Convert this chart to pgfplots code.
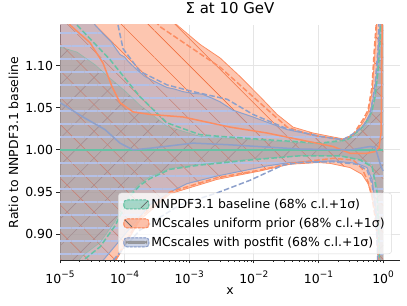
\documentclass[border=0pt]{standalone}
\usepackage{fontspec}
\setmainfont{DejaVu Sans}
\usepackage{pgfplots}
\pgfplotsset{compat=1.18}
\usepackage{pgfplotstable}
\usepgfplotslibrary{fillbetween}
\usetikzlibrary{patterns.meta}
\definecolor{cg}{HTML}{66C2A5}
\definecolor{co}{HTML}{FC8D62}
\definecolor{cb}{HTML}{8DA0CB}
\definecolor{cbh}{HTML}{B4C0E6}
\definecolor{coh}{HTML}{F0703F}
\newcommand{\tpm}[1]{10\raisebox{0.45em}{\fontsize{9}{9}\selectfont −#1}}
\newcommand{\tpz}{10\raisebox{0.45em}{\fontsize{9}{9}\selectfont 0}}

% green band (68% c.l.)
\pgfplotstableread{
x y
1e-5 1.122
1.83e-5 1.116
3.48e-5 1.101
5.54e-5 1.087
1.01e-4 1.070
1.73e-4 1.053
4.53e-4 1.028
1.47e-3 1.016
1.60e-2 1.011
0.106 1.007
0.240 1.010
0.441 1.020
0.586 1.033
0.676 1.044
0.752 1.060
0.837 1.090
0.899 1.130
0.966 1.250
1.0 1.400
}\gu
\pgfplotstableread{
x y
1e-5 0.840
2.27e-5 0.875
4.16e-5 0.890
7.10e-5 0.915
1.21e-4 0.948
1.73e-4 0.960
2.47e-4 0.968
5.05e-4 0.978
1.47e-3 0.983
8.74e-3 0.989
5.19e-2 0.993
0.216 0.993
0.441 0.989
0.676 0.982
0.808 0.955
0.837 0.930
0.899 0.860
1.0 0.700
}\gl
% green 1 sigma
\pgfplotstableread{
x y
1e-5 1.220
1.83e-5 1.148
5.94e-5 1.107
1.01e-4 1.085
1.73e-4 1.063
4.53e-4 1.032
1.47e-3 1.018
3.0e-3 1.016
1.60e-2 1.012
0.106 1.008
0.277 1.012
0.441 1.024
0.586 1.036
0.676 1.047
0.752 1.063
0.837 1.095
0.899 1.130
0.931 1.200
}\gsu
\pgfplotstableread{
x y
1.83e-5 0.845
2.27e-5 0.869
4.16e-5 0.885
7.10e-5 0.910
1.21e-4 0.945
1.73e-4 0.958
2.47e-4 0.966
5.05e-4 0.977
1.47e-3 0.982
8.74e-3 0.988
5.19e-2 0.993
0.216 0.993
0.441 0.988
0.676 0.980
0.808 0.949
0.837 0.920
0.899 0.850
}\gsl
% orange band
\pgfplotstableread{
x y
1e-5 1.600
2.47e-4 1.200
6.48e-4 1.148
1.47e-3 1.125
3.0e-3 1.109
6.11e-3 1.087
1.25e-2 1.063
2.29e-2 1.042
4.04e-2 1.027
8.24e-2 1.020
0.151 1.016
0.240 1.013
0.344 1.017
0.490 1.033
0.586 1.044
0.676 1.068
0.726 1.100
0.779 1.135
0.808 1.160
0.837 1.250
1.0 1.500
}\ou
\pgfplotstableread{
x y
1e-5 0.600
4.16e-5 0.800
7.10e-5 0.867
1.73e-4 0.917
5.05e-4 0.948
2.69e-3 0.965
1.25e-2 0.975
3.63e-2 0.983
0.100 0.985
0.151 0.984
0.309 0.979
0.473 0.971
0.586 0.960
0.676 0.945
0.779 0.918
0.867 0.870
0.931 0.800
1.0 0.700
}\ol
\pgfplotstableread{
x y
2.47e-4 1.160
3.53e-4 1.146
1.47e-3 1.114
3.0e-3 1.098
9.72e-3 1.063
3.27e-2 1.027
7.41e-2 1.018
0.151 1.014
0.240 1.012
0.344 1.018
0.490 1.036
0.586 1.047
0.676 1.075
0.726 1.115
0.779 1.146
0.837 1.250
}\osu
\pgfplotstableread{
x y
7.10e-5 0.869
1.73e-4 0.920
5.05e-4 0.950
2.69e-3 0.967
1.25e-2 0.976
3.63e-2 0.984
0.168 0.990
0.344 0.988
0.473 0.978
0.586 0.962
0.676 0.944
0.779 0.913
0.867 0.860
}\osl
\pgfplotstableread{
x y
1e-5 1.250
1.43e-5 1.148
2.91e-5 1.127
4.63e-5 1.103
6.38e-5 1.075
8.49e-5 1.056
1.35e-4 1.045
2.47e-4 1.042
8.02e-4 1.039
4.28e-3 1.027
1.60e-2 1.020
5.19e-2 1.012
0.168 1.004
0.309 0.996
0.565 0.996
0.752 0.998
0.867 1.003
0.931 1.020
0.966 1.140
1.0 1.300
}\oc
% blue band
\pgfplotstableread{
x y
1e-5 1.500
2.44e-5 1.200
3.48e-5 1.148
4.6e-5 1.138
6.2e-5 1.128
8.49e-5 1.113
1.0e-4 1.110
1.13e-4 1.105
1.5e-4 1.096
2.07e-4 1.087
2.6e-4 1.083
3.3e-4 1.079
4.5e-4 1.074
6.0e-4 1.072
8.0e-4 1.069
1.15e-3 1.067
1.6e-3 1.066
2.3e-3 1.061
3.0e-3 1.057
4.76e-3 1.047
9.72e-3 1.039
3.27e-2 1.024
0.106 1.016
0.240 1.012
0.344 1.018
0.490 1.027
0.629 1.043
0.700 1.060
0.752 1.075
0.808 1.095
0.837 1.115
0.899 1.148
0.931 1.300
1.0 1.500
}\bu
\pgfplotstableread{
x y
1e-5 0.600
4.63e-5 0.869
1.01e-4 0.900
2.47e-4 0.935
5.05e-4 0.950
9.25e-4 0.960
2.69e-3 0.969
1.60e-2 0.981
3.63e-2 0.985
0.168 0.987
0.396 0.984
0.565 0.979
0.676 0.965
0.779 0.930
0.837 0.870
0.867 0.700
1.0 0.600
}\bl
\pgfplotstableread{
x y
7.9e-5 1.148
9.45e-5 1.120
1.73e-4 1.093
4.53e-4 1.077
1.15e-3 1.069
3.85e-3 1.060
9.72e-3 1.042
3.27e-2 1.025
0.106 1.016
0.240 1.012
0.344 1.019
0.490 1.028
0.629 1.041
0.752 1.077
0.837 1.120
0.899 1.200
}\bsu
\pgfplotstableread{
x y
6.61e-5 0.869
1.73e-4 0.905
7.21e-4 0.935
2.69e-3 0.949
8.74e-3 0.964
2.83e-2 0.982
5.19e-2 0.985
0.168 0.986
0.396 0.983
0.565 0.976
0.676 0.960
0.779 0.920
0.837 0.860
}\bsl
\pgfplotstableread{
x y
1e-5 1.056
2.27e-5 1.039
4.98e-5 1.024
8.49e-5 1.008
1.35e-4 1.000
2.47e-4 1.002
1.15e-3 1.008
4.28e-3 1.006
5.19e-2 1.001
0.309 1.000
0.629 1.004
0.752 1.003
0.808 0.996
0.931 0.980
1.0 0.975
}\bc
\pgfplotstableread{
x y
1e-5 1.0
1.0 1.0
}\gc

\begin{document}
\begin{tikzpicture}[font=\fontsize{12.5}{15}\selectfont]
\begin{axis}[
  xmode=log, scale only axis, width=340bp, height=235bp,
  xmin=1e-5, xmax=1.83, ymin=0.8695, ymax=1.148,
  axis lines=left, axis line style={-, black!85, line width=0.8bp},
  xtick={1e-5,1e-4,1e-3,1e-2,1e-1,1},
  xticklabels={\tpm{5},\tpm{4},\tpm{3},\tpm{2},\tpm{1},\tpz},
  minor xtick={2e-5,3e-5,4e-5,5e-5,6e-5,7e-5,8e-5,9e-5,2e-4,3e-4,4e-4,5e-4,6e-4,7e-4,8e-4,9e-4,2e-3,3e-3,4e-3,5e-3,6e-3,7e-3,8e-3,9e-3,2e-2,3e-2,4e-2,5e-2,6e-2,7e-2,8e-2,9e-2,0.2,0.3,0.4,0.5,0.6,0.7,0.8,0.9},
  ytick={0.9,0.95,1,1.05,1.1},
  yticklabels={0.90,0.95,1.00,1.05,1.10},
  tick align=outside, major tick length=3.5bp, minor tick length=2bp,
  every tick/.style={black!85, line width=0.8bp},
  minor tick style={black!85, line width=0.6bp},
  xmajorgrids, ymajorgrids, major grid style={black!10, line width=0.8bp},
  xticklabel style={anchor=base, yshift=-20bp},
  title={Σ at 10 GeV},
  title style={at={(axis description cs:0.5,1.0234)}, anchor=base, font=\fontsize{15}{18}\selectfont},
  xlabel={x},
  xlabel style={at={(axis description cs:0.5,-0.1489)}, anchor=base},
  ylabel={Ratio to NNPDF3.1 baseline},
  ylabel style={at={(axis description cs:-0.1235,0.5)}, anchor=base},
  legend style={at={(0.976,0.0255)}, anchor=south east, draw=black!15, fill=white, fill opacity=0.8, text opacity=1, rounded corners=3bp, inner xsep=5bp, inner ysep=4bp, row sep=4bp, font=\fontsize{12.5}{15}\selectfont, /tikz/every even column/.append style={column sep=10bp}},
  legend cell align=left,
]
\addlegendimage{legend image code/.code={
  \fill[cg, fill opacity=0.55] (0bp,-4.5bp) rectangle (25bp,4.5bp);
  \draw[cg, dashed, line width=1bp, dash pattern=on 2.5bp off 1.5bp] (0bp,-4.5bp) rectangle (25bp,4.5bp);
  \draw[black!60, line width=0.8bp] (17bp,-3.5bp) -- (24bp,3.5bp);
}}
\addlegendentry{NNPDF3.1 baseline (68\% c.l.+1σ)}
\addlegendimage{legend image code/.code={
  \fill[co, fill opacity=0.55] (0bp,-4.5bp) rectangle (25bp,4.5bp);
  \draw[co, dashed, line width=1bp, dash pattern=on 2.5bp off 1.5bp] (0bp,-4.5bp) rectangle (25bp,4.5bp);
  \draw[black!60, line width=0.8bp] (1bp,3.5bp) -- (8bp,-3.5bp);
}}
\addlegendentry{MCscales uniform prior (68\% c.l.+1σ)}
\addlegendimage{legend image code/.code={
  \fill[cb, fill opacity=0.45] (0bp,-4.5bp) rectangle (25bp,4.5bp);
  \draw[cb, dashed, line width=1bp, dash pattern=on 2.5bp off 1.5bp] (0bp,-4.5bp) rectangle (25bp,4.5bp);
  \fill[black!45] (2bp,-1.3bp) rectangle (23bp,1.3bp);
}}
\addlegendentry{MCscales with postfit (68\% c.l.+1σ)}

% band boundary paths
\addplot[name path=gu, draw=none, forget plot] table {\gu};
\addplot[name path=gl, draw=none, forget plot] table {\gl};
\addplot[name path=ou, draw=none, forget plot] table {\ou};
\addplot[name path=ol, draw=none, forget plot] table {\ol};
\addplot[name path=bu, draw=none, forget plot] table {\bu};
\addplot[name path=bl, draw=none, forget plot] table {\bl};

% fills
\addplot[fill=cg, fill opacity=0.5, draw=none, forget plot] fill between[of=gu and gl];
\addplot[pattern={Lines[angle=45,distance=19bp,line width=0.6bp]}, pattern color=black!55, fill opacity=0.35, draw=none, forget plot] fill between[of=gu and gl];
\addplot[fill=co, fill opacity=0.5, draw=none, forget plot] fill between[of=ou and ol];
\addplot[pattern={Lines[angle=-45,distance=19bp,line width=0.6bp]}, pattern color=coh, fill opacity=0.8, draw=none, forget plot] fill between[of=ou and ol];
\addplot[fill=cb, fill opacity=0.42, draw=none, forget plot] fill between[of=bu and bl];
\addplot[pattern={Lines[angle=0,distance=13bp,line width=1.2bp]}, pattern color=cbh, fill opacity=0.9, draw=none, forget plot] fill between[of=bu and bl];

% band edges
\addplot[cg, line width=0.6bp, opacity=0.5, forget plot] table {\gu};
\addplot[cg, line width=0.6bp, opacity=0.5, forget plot] table {\gl};
\addplot[co, line width=0.8bp, forget plot] table {\ou};
\addplot[co, line width=0.8bp, forget plot] table {\ol};
\addplot[cb, line width=1bp, forget plot] table {\bu};
\addplot[cb, line width=1bp, forget plot] table {\bl};

% 1 sigma dashed
\addplot[cg, line width=1.5bp, dash pattern=on 5.5bp off 2.4bp, forget plot] table {\gsu};
\addplot[cg, line width=1.5bp, dash pattern=on 5.5bp off 2.4bp, forget plot] table {\gsl};
\addplot[co, line width=1.5bp, dash pattern=on 5.5bp off 2.4bp, forget plot] table {\osu};
\addplot[co, line width=1.5bp, dash pattern=on 5.5bp off 2.4bp, forget plot] table {\osl};
\addplot[cb, line width=1.5bp, dash pattern=on 5.5bp off 2.4bp, forget plot] table {\bsu};
\addplot[cb, line width=1.5bp, dash pattern=on 5.5bp off 2.4bp, forget plot] table {\bsl};

% central values
\addplot[cg, line width=1.5bp, forget plot] table {\gc};
\addplot[co, line width=1.5bp, forget plot] table {\oc};
\addplot[cb, line width=1.5bp, forget plot] table {\bc};
\end{axis}
\pgfresetboundingbox
\path ([shift={(-60bp,-46bp)}]current axis.south west) rectangle ([shift={(7bp,25bp)}]current axis.north east);
\end{tikzpicture}
\end{document}
